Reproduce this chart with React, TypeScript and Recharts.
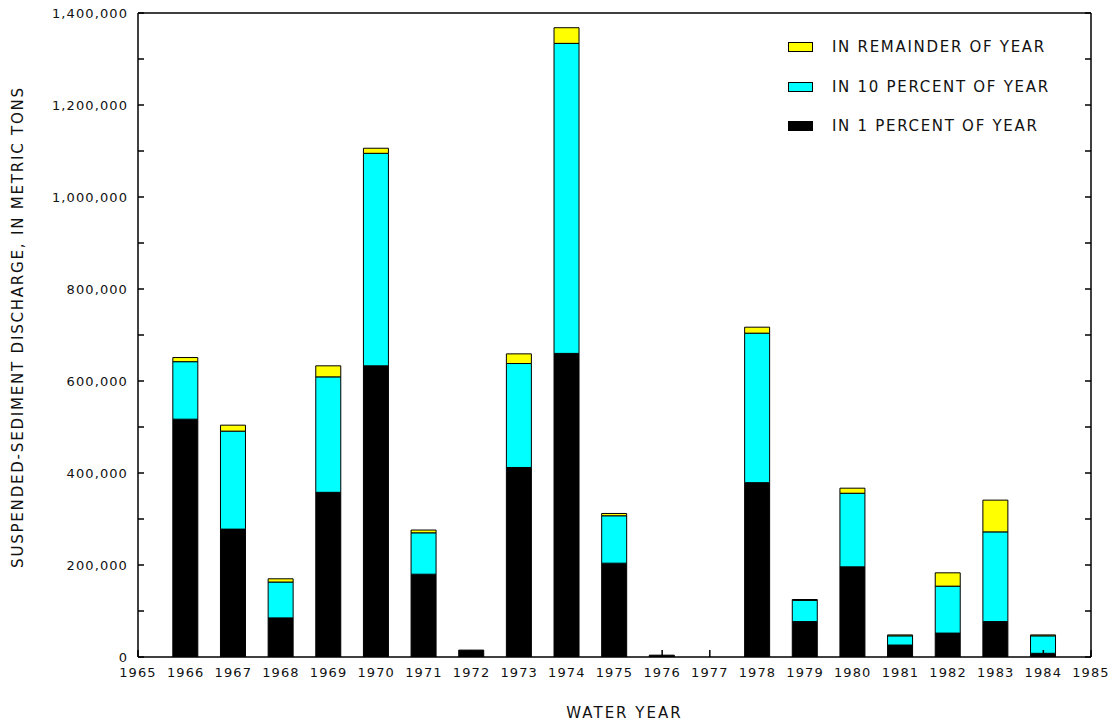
import React from 'react';
import { BarChart, Bar, XAxis, YAxis, Legend } from 'recharts';

const years = [1966, 1967, 1968, 1969, 1970, 1971, 1972, 1973, 1974, 1975, 1976, 1977, 1978, 1979, 1980, 1981, 1982, 1983, 1984];
// cumulative values (metric tons)
const inOnePercent = [517000, 278000, 85000, 358000, 633000, 180000, 15000, 412000, 660000, 204000, 4000, 0, 379000, 77000, 196000, 26000, 52000, 77000, 8000];
const inTenPercent = [642000, 491000, 163000, 609000, 1095000, 270000, 15000, 638000, 1334000, 307000, 4000, 0, 704000, 123000, 356000, 46000, 154000, 272000, 46000];
const annualTotal = [651000, 504000, 170000, 633000, 1106000, 276000, 15000, 659000, 1368000, 312000, 4000, 0, 717000, 125000, 367000, 48000, 183000, 341000, 48000];

const xTicks = [1965, 1966, 1967, 1968, 1969, 1970, 1971, 1972, 1973, 1974, 1975, 1976, 1977, 1978, 1979, 1980, 1981, 1982, 1983, 1984, 1985];
const yTicks = [0, 100000, 200000, 300000, 400000, 500000, 600000, 700000, 800000, 900000, 1000000, 1100000, 1200000, 1300000, 1400000];

const legendItems = [
  { label: 'IN REMAINDER OF YEAR', color: '#FFFF00' },
  { label: 'IN 10 PERCENT OF YEAR', color: '#00FFFF' },
  { label: 'IN 1 PERCENT OF YEAR', color: '#000000' },
];

const data = years.map((year, i) => ({
  year,
  one: inOnePercent[i],
  ten: inTenPercent[i] - inOnePercent[i],
  rest: annualTotal[i] - inTenPercent[i],
}));

const FONT = '"DejaVu Sans", Verdana, sans-serif';
const TEXT = '#111';
const TM = 10;

const LeftTick = (props: any) => {
  const { x, y, payload } = props;
  const px = x + TM;
  const v = payload.value as number;
  return (
    <g>
      <line x1={px} y1={y} x2={px + 6} y2={y} stroke="#000" strokeWidth={1.5} />
      {v % 200000 === 0 && (
        <text x={x} y={y} textAnchor="end" dominantBaseline="central" fontFamily={FONT} fontSize={13} letterSpacing={1.1} fill={TEXT}>
          {v.toLocaleString('en-US')}
        </text>
      )}
    </g>
  );
};

const RightTick = (props: any) => {
  const { x, y } = props;
  const px = x - TM;
  return <line x1={px} y1={y} x2={px - 6} y2={y} stroke="#000" strokeWidth={1.5} />;
};

const BottomTick = (props: any) => {
  const { x, y, payload } = props;
  const py = y - TM;
  return (
    <g>
      <line x1={x} y1={py} x2={x} y2={py - 7} stroke="#000" strokeWidth={1.5} />
      <text x={x} y={py + 15} textAnchor="middle" dominantBaseline="central" fontFamily={FONT} fontSize={13} letterSpacing={1.1} fill={TEXT}>
        {String(payload.value)}
      </text>
    </g>
  );
};

const TopTick = (props: any) => {
  const { x, y } = props;
  const py = y + TM;
  return <line x1={x} y1={py} x2={x} y2={py + 7} stroke="#000" strokeWidth={1.5} />;
};

const YTitle = (props: any) => {
  const vb = props.viewBox || { x: 0, y: 13, width: 138, height: 644 };
  const cx = vb.x + 18;
  const cy = vb.y + vb.height / 2 - 8;
  return (
    <text x={cx} y={cy} transform={`rotate(-90 ${cx} ${cy})`} textAnchor="middle" dominantBaseline="central" fontFamily={FONT} fontSize={15} letterSpacing={1.8} fill={TEXT}>
      SUSPENDED-SEDIMENT DISCHARGE, IN METRIC TONS
    </text>
  );
};

const XTitle = (props: any) => {
  const vb = props.viewBox || { x: 138, y: 657, width: 953, height: 66 };
  const cx = vb.x + vb.width / 2 + 10;
  const cy = vb.y + 56;
  return (
    <text x={cx} y={cy} textAnchor="middle" dominantBaseline="central" fontFamily={FONT} fontSize={15} letterSpacing={2} fill={TEXT}>
      WATER YEAR
    </text>
  );
};

const LegendContent = () => (
  <div style={{ fontFamily: FONT, fontSize: 15, letterSpacing: 1.7, color: TEXT }}>
    {legendItems.map((it) => (
      <div key={it.label} style={{ display: 'flex', alignItems: 'center', height: 39.7 }}>
        <span style={{ display: 'inline-block', width: 25, height: 10, background: it.color, border: '1.5px solid #000', boxSizing: 'border-box' }} />
        <span style={{ marginLeft: 19, whiteSpace: 'nowrap' }}>{it.label}</span>
      </div>
    ))}
  </div>
);

export default function App() {
  return (
    <div style={{ position: 'absolute', left: 0, top: 0, width: 1112, height: 723, background: '#fff' }}>
      <BarChart width={1112} height={723} data={data} margin={{ top: 0, right: 0, bottom: 0, left: 0 }}>
        <XAxis
          xAxisId="b"
          dataKey="year"
          type="number"
          domain={[1965, 1985]}
          ticks={xTicks}
          interval={0}
          allowDataOverflow
          height={66}
          tickSize={0}
          tickMargin={TM}
          tick={BottomTick}
          axisLine={{ stroke: '#000', strokeWidth: 1.5 }}
          label={<XTitle />}
        />
        <XAxis
          xAxisId="t"
          orientation="top"
          type="number"
          domain={[1965, 1985]}
          ticks={xTicks}
          interval={0}
          allowDataOverflow
          height={13}
          tickSize={0}
          tickMargin={TM}
          tick={TopTick}
          axisLine={{ stroke: '#000', strokeWidth: 1.5 }}
        />
        <YAxis
          yAxisId="l"
          type="number"
          domain={[0, 1400000]}
          ticks={yTicks}
          interval={0}
          allowDataOverflow
          width={138}
          tickSize={0}
          tickMargin={TM}
          tick={LeftTick}
          axisLine={{ stroke: '#000', strokeWidth: 1.5 }}
          label={<YTitle />}
        />
        <YAxis
          yAxisId="r"
          orientation="right"
          type="number"
          domain={[0, 1400000]}
          ticks={yTicks}
          interval={0}
          allowDataOverflow
          width={21}
          tickSize={0}
          tickMargin={TM}
          tick={RightTick}
          axisLine={{ stroke: '#000', strokeWidth: 1.5 }}
        />
        <Legend
          layout="vertical"
          align="center"
          verticalAlign="middle"
          content={<LegendContent />}
          wrapperStyle={{ left: 788, top: 27, width: 300, height: 120 }}
        />
        <Bar xAxisId="b" yAxisId="l" dataKey="one" stackId="s" fill="#000000" stroke="#000" strokeWidth={1} barSize={25} isAnimationActive={false} />
        <Bar xAxisId="b" yAxisId="l" dataKey="ten" stackId="s" fill="#00FFFF" stroke="#000" strokeWidth={1} barSize={25} isAnimationActive={false} />
        <Bar xAxisId="b" yAxisId="l" dataKey="rest" stackId="s" fill="#FFFF00" stroke="#000" strokeWidth={1} barSize={25} isAnimationActive={false} />
      </BarChart>
    </div>
  );
}
